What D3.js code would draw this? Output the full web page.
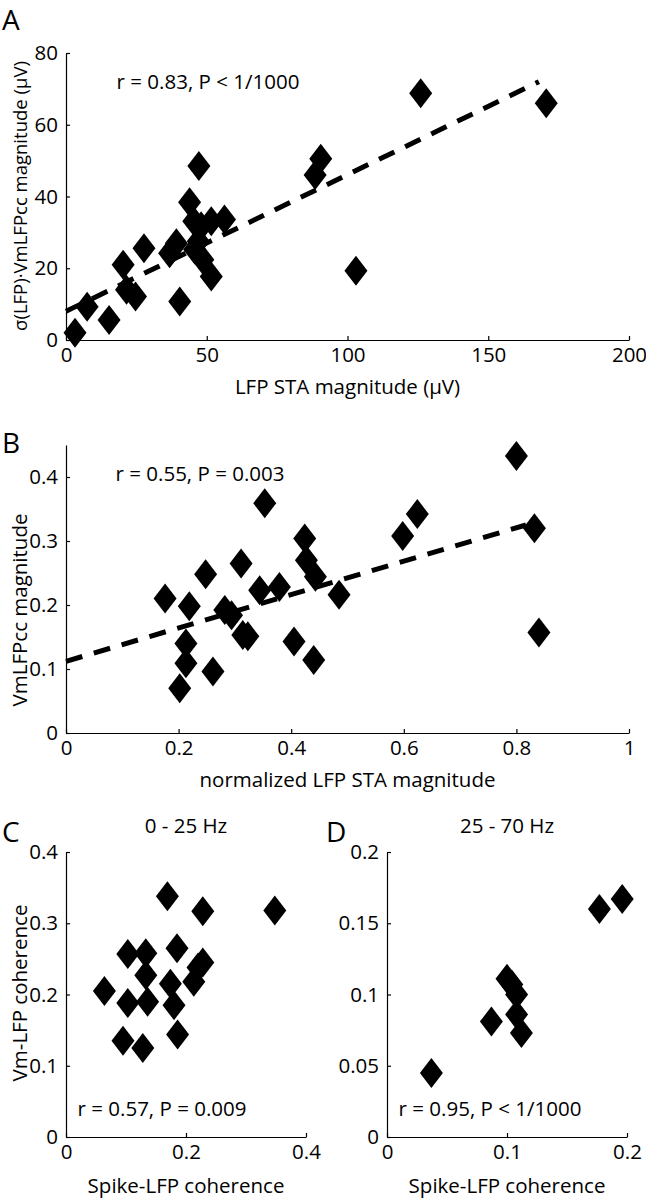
<!DOCTYPE html>
<html><head><meta charset="utf-8">
<script src="https://cdn.jsdelivr.net/npm/d3@7"></script>
<style>body{margin:0;background:#fff}svg{display:block}text{font-family:"Open Sans",sans-serif;fill:#000}</style>
</head><body>
<script>
// Panel A
const aX = [3.2,7.5,15.3,20.3,21.5,24.7,27.7,36.8,39.2,40.4,43.9,45.4,45.7,47,47.2,48,48.6,51.6,51.6,56.3,88.5,90.5,103,126,170.6];
const aY = [2,9.3,5.6,21,14,12.1,25.6,24.2,27,10.7,38.4,33.1,25.2,27.5,48.5,31.7,22.4,17.7,33.1,33.6,46,50.5,19.3,68.8,66];
const aFitX = [0,168], aFitY = [8,72];
const aXTicks = [0,50,100,150,200], aYTicks = [0,20,40,60,80];
// Panel B
const bX = [0.8,0.353,0.624,0.598,0.832,0.424,0.311,0.427,0.248,0.443,0.344,0.379,0.485,0.176,0.219,0.282,0.294,0.314,0.323,0.405,0.213,0.213,0.261,0.44,0.202,0.84];
const bY = [0.433,0.359,0.342,0.308,0.32,0.304,0.265,0.27,0.248,0.244,0.223,0.228,0.216,0.21,0.198,0.192,0.184,0.153,0.151,0.143,0.14,0.109,0.096,0.114,0.07,0.157];
const bFitX = [0,0.817], bFitY = [0.112,0.325];
const bXTicks = [0,0.2,0.4,0.6,0.8,1], bYTicks = [0,0.1,0.2,0.3,0.4];
// Panel C
const cX = [0.169,0.228,0.348,0.185,0.103,0.133,0.228,0.22,0.213,0.133,0.064,0.103,0.136,0.174,0.18,0.186,0.095,0.128];
const cY = [0.338,0.317,0.318,0.265,0.257,0.258,0.245,0.238,0.218,0.227,0.205,0.188,0.19,0.215,0.185,0.144,0.135,0.125];
const cXTicks = [0,0.2,0.4], cYTicks = [0,0.1,0.2,0.3,0.4];
// Panel D
const dX = [0.177,0.196,0.1,0.104,0.108,0.108,0.112,0.087,0.037];
const dY = [0.16,0.167,0.111,0.107,0.1,0.086,0.073,0.081,0.045];
const dXTicks = [0,0.1,0.2], dYTicks = [0,0.05,0.1,0.15,0.2];

const svg = d3.select("body").append("svg").attr("width",646).attr("height",1200);
const FS = 20.5;

function diamond(g, xs, ys, X, Y){
  g.selectAll(null).data(X.map((v,i)=>[v,Y[i]])).enter().append("path")
   .attr("d", d => { const px=xs(d[0]), py=ys(d[1]);
      return `M${px},${py-15}L${px+11.5},${py}L${px},${py+15}L${px-11.5},${py}Z`; })
   .attr("fill","#000");
}

function panel(o){
  const g = svg.append("g");
  const xs = d3.scaleLinear().domain(o.xd).range(o.xr);
  const ys = d3.scaleLinear().domain(o.yd).range(o.yr);
  const xa = g.append("g").attr("transform",`translate(0,${o.yr[0]})`)
    .call(d3.axisBottom(xs).tickValues(o.xt).tickFormat(d=>String(d)).tickSizeInner(-4).tickSizeOuter(0).tickPadding(7));
  const ya = g.append("g").attr("transform",`translate(${o.xr[0]},0)`)
    .call(d3.axisLeft(ys).tickValues(o.yt).tickFormat(d=>String(d)).tickSizeInner(-4).tickSizeOuter(0).tickPadding(8));
  [xa,ya].forEach(a=>{a.selectAll("text").style("font-size",FS+"px").attr("font-family",null);
    a.selectAll("path,line").attr("stroke","#000").attr("stroke-width",1.2);});
  if(o.fx){
    g.append("path").attr("d", d3.line()(o.fx.map((v,i)=>[xs(v),ys(o.fy[i])])))
     .attr("stroke","#000").attr("stroke-width",5).attr("stroke-dasharray","17,12").attr("fill","none");
  }
  diamond(g, xs, ys, o.X, o.Y);
  g.append("text").attr("x",o.letter[1]).attr("y",o.letter[2]).style("font-size","28px").text(o.letter[0]);
  g.append("text").attr("x",o.ann[1]).attr("y",o.ann[2]).attr("text-anchor","middle").attr("dominant-baseline","middle").style("font-size",FS+"px").text(o.ann[0]);
  g.append("text").attr("x",(o.xr[0]+o.xr[1])/2).attr("y",o.xl[1]).attr("text-anchor","middle").attr("dominant-baseline","middle").style("font-size",FS+"px").text(o.xl[0]);
  if(o.yl) g.append("text").attr("transform",`translate(${o.yl[1]},${o.yl[2]}) rotate(-90)`).attr("text-anchor","middle").attr("dominant-baseline","middle").style("font-size",(o.yl[3]||FS)+"px").text(o.yl[0]);
  if(o.title) g.append("text").attr("x",(o.xr[0]+o.xr[1])/2).attr("y",o.title[1]).attr("text-anchor","middle").attr("dominant-baseline","middle").style("font-size",FS+"px").text(o.title[0]);
}

panel({xd:[0,200],xr:[66,629],yd:[0,80],yr:[340,53],xt:aXTicks,yt:aYTicks,X:aX,Y:aY,fx:aFitX,fy:aFitY,
  letter:["A",2,30],ann:["r = 0.83,  P < 1/1000",208,84],xl:["LFP STA magnitude (\u03bcV)",389],
  yl:["\u03c3(LFP)\u00b7VmLFPcc  magnitude (\u03bcV)",22,196,18.5]});
panel({xd:[0,1],xr:[66,629],yd:[0,0.45],yr:[733,445],xt:bXTicks,yt:bYTicks,X:bX,Y:bY,fx:bFitX,fy:bFitY,
  letter:["B",2,453],ann:["r = 0.55,  P = 0.003",200,476],xl:["normalized LFP STA magnitude",782],
  yl:["VmLFPcc magnitude",22,610]});
panel({xd:[0,0.4],xr:[66,306],yd:[0,0.4],yr:[1137,852],xt:cXTicks,yt:cYTicks,X:cX,Y:cY,
  letter:["C",2,842],ann:["r = 0.57,  P = 0.009",162,1111],xl:["Spike-LFP coherence",1188],
  yl:["Vm-LFP coherence",22,993],title:["0 - 25 Hz",828]});
panel({xd:[0,0.2],xr:[387,627],yd:[0,0.2],yr:[1137,852],xt:dXTicks,yt:dYTicks,X:dX,Y:dY,
  letter:["D",326,842],ann:["r = 0.95,  P < 1/1000",490,1111],xl:["Spike-LFP coherence",1188],
  title:["25 - 70 Hz",828]});
</script>
</body></html>
